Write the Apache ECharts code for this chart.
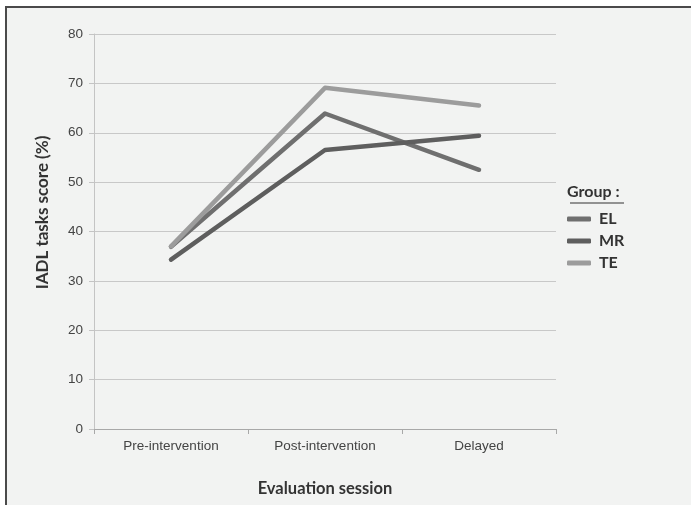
<!DOCTYPE html>
<html><head><meta charset="utf-8">
<script src="https://cdn.jsdelivr.net/npm/echarts@6/dist/echarts.min.js"></script>
<style>html,body{margin:0;padding:0;background:#fff}#c{width:691px;height:505px}</style>
</head><body><div id="c"></div>
<script>
const categories = ['Pre-intervention', 'Post-intervention', 'Delayed'];
const EL = [36.9, 63.9, 52.5];
const MR = [34.3, 56.5, 59.4];
const TE = [37.0, 69.1, 65.5];
const yTicks = [0, 10, 20, 30, 40, 50, 60, 70, 80];

const chart = echarts.init(document.getElementById('c'), null, {renderer: 'canvas'});
const lineStyle = (c) => ({width: 4.5, color: c, cap: 'round', join: 'round'});
chart.setOption({
  backgroundColor: 'transparent',
  animation: false,
  graphic: [
    {type: 'rect', z: -10, shape: {x: 6, y: 7, width: 720, height: 540},
     style: {fill: '#f2f3f2', stroke: '#4a4a4a', lineWidth: 2}},
    {type: 'line', shape: {x1: 570, y1: 203, x2: 624, y2: 203},
     style: {stroke: '#333', lineWidth: 1.2}}
  ],
  title: {text: 'Group :', left: 567, top: 184, padding: 0,
    textStyle: {fontFamily: 'Lato', fontWeight: 'bold', fontSize: 16, color: '#333'}},
  legend: {
    orient: 'vertical', left: 567, top: 211, padding: 0,
    itemWidth: 24, itemHeight: 5, itemGap: 6, icon: 'roundRect',
    data: ['EL', 'MR', 'TE'],
    textStyle: {fontFamily: 'Lato', fontWeight: 'bold', fontSize: 16, color: '#333', padding: [0,0,0,3]}
  },
  grid: {left: 94, right: 135, top: 34, bottom: 76, containLabel: false},
  xAxis: {
    type: 'category', data: categories, boundaryGap: true,
    name: 'Evaluation session', nameLocation: 'middle', nameGap: 51,
    nameTextStyle: {fontFamily: 'Lato', fontWeight: 'bold', fontSize: 16.5, color: '#333'},
    axisLine: {lineStyle: {color: '#a8a8a8', width: 1}},
    axisTick: {show: true, length: 5, lineStyle: {color: '#a8a8a8'}},
    axisLabel: {margin: 10, fontFamily: 'Liberation Sans, Arial', fontSize: 13.5, color: '#444'}
  },
  yAxis: {
    type: 'value', min: 0, max: 80, interval: 10,
    name: 'IADL tasks score (%)', nameLocation: 'middle', nameGap: 43,
    nameTextStyle: {fontFamily: 'Lato', fontWeight: 'bold', fontSize: 17, color: '#333', padding: [0, 0, 0, 38]},
    axisLine: {show: true, lineStyle: {color: '#c4c4c4', width: 1}},
    axisTick: {show: true, length: 5, lineStyle: {color: '#c4c4c4'}},
    axisLabel: {margin: 11, fontFamily: 'Liberation Sans, Arial', fontSize: 13.5, color: '#444',
      formatter: (v) => yTicks.includes(v) ? String(v) : ''},
    splitLine: {lineStyle: {color: '#c8c8c8', width: 1}}
  },
  series: [
    {name: 'EL', type: 'line', data: EL, symbol: 'none', color: '#6f6f6f', lineStyle: lineStyle('#6f6f6f')},
    {name: 'MR', type: 'line', data: MR, symbol: 'none', color: '#5e5e5e', lineStyle: lineStyle('#5e5e5e')},
    {name: 'TE', type: 'line', data: TE, symbol: 'none', color: '#9c9c9c', lineStyle: lineStyle('#9c9c9c')}
  ]
});
</script></body></html>
